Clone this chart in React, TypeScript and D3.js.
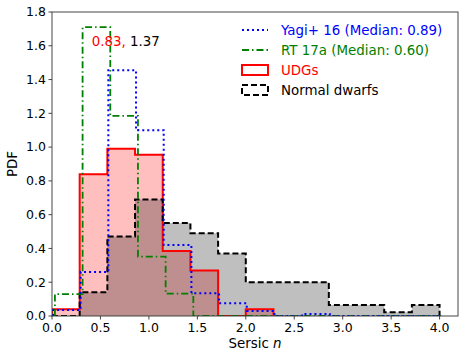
import React from "react";
import * as d3 from "d3";

// bin edges start + common bin width
const binWidth = 0.2857;
const dwarfStart = 0.0;
const udgStart = 0.0;
const yagiStart = 0.01;
const rtStart = 0.03;

// PDF heights per bin
const dwarfPdf = [0, 0.14, 0.47, 0.69, 0.55, 0.49, 0.37, 0.2, 0.2, 0.2, 0.065, 0.065, 0.022, 0.065];
const udgPdf = [0.04, 0.84, 0.99, 0.955, 0.385, 0.27, 0, 0.04];
const yagiPdf = [0.035, 0.26, 1.455, 1.1, 0.42, 0.135, 0.075, 0.03, 0, 0.012, 0, 0, 0, 0];
const rtPdf = [0.13, 1.71, 1.185, 0.352, 0.133, 0, 0, 0, 0, 0, 0, 0, 0, 0];

const xTicks = [0, 0.5, 1, 1.5, 2, 2.5, 3, 3.5, 4];
const yTicks = [0, 0.2, 0.4, 0.6, 0.8, 1.0, 1.2, 1.4, 1.6, 1.8];

const legendItems = [
  { label: "Yagi+ 16 (Median: 0.89)", color: "blue", kind: "dotted" },
  { label: "RT 17a (Median: 0.60)", color: "green", kind: "dashdot" },
  { label: "UDGs", color: "red", kind: "box" },
  { label: "Normal dwarfs", color: "black", kind: "dashbox" },
];

const W = 469, H = 359;
const m = { left: 52, right: 11, top: 12, bottom: 43 };
const font = "DejaVu Sans, sans-serif";

const x = d3.scaleLinear().domain([0, 4.19]).range([m.left, W - m.right]);
const y = d3.scaleLinear().domain([0, 1.8]).range([H - m.bottom, m.top]);

function stepPts(start: number, vals: number[]) {
  const pts: [number, number][] = [[start, 0]];
  vals.forEach((v, i) => {
    pts.push([start + i * binWidth, v]);
    pts.push([start + (i + 1) * binWidth, v]);
  });
  pts.push([start + vals.length * binWidth, 0]);
  return pts;
}

const line = d3.line<[number, number]>().x(d => x(d[0])).y(d => y(d[1]));

export default function App() {
  const dwarf = stepPts(dwarfStart, dwarfPdf);
  const udg = stepPts(udgStart, udgPdf);
  const yagi = stepPts(yagiStart, yagiPdf);
  const rt = stepPts(rtStart, rtPdf);
  const x0 = x.range()[0], x1 = x.range()[1];
  const y0 = y.range()[0], y1 = y.range()[1];

  return (
    <svg width={W} height={H} style={{ position: "absolute", left: 0, top: 0 }}>
      <rect width={W} height={H} fill="white" />
      <defs>
        <clipPath id="plot">
          <rect x={x0} y={y1} width={x1 - x0} height={y0 - y1} />
        </clipPath>
      </defs>
      <g clipPath="url(#plot)">
        <path d={line(udg) + "Z"} fill="red" fillOpacity={0.25} stroke="none" />
        <path d={line(dwarf) + "Z"} fill="black" fillOpacity={0.25} stroke="none" />
        <path d={line(udg)!} fill="none" stroke="red" strokeWidth={2} />
        <path d={line(dwarf)!} fill="none" stroke="black" strokeWidth={2} strokeDasharray="6,3" />
        <path d={line(rt)!} fill="none" stroke="green" strokeWidth={1.8} strokeDasharray="7,3,1.5,3" />
        <path d={line(yagi)!} fill="none" stroke="blue" strokeWidth={2} strokeDasharray="2,3" />
      </g>

      {/* frame */}
      <rect x={x0} y={y1} width={x1 - x0} height={y0 - y1} fill="none" stroke="#333" strokeWidth={0.9} />

      {/* x axis */}
      {xTicks.map(t => (
        <g key={"x" + t} transform={`translate(${x(t)},${y0})`}>
          <line y2={3.5} stroke="#333" strokeWidth={0.9} />
          <text y={16} textAnchor="middle" fontFamily={font} fontSize={12.5} fill="black">
            {t.toFixed(1)}
          </text>
        </g>
      ))}
      {/* y axis */}
      {yTicks.map(t => (
        <g key={"y" + t} transform={`translate(${x0},${y(t)})`}>
          <line x2={-3.5} stroke="#333" strokeWidth={0.9} />
          <text x={-6} dy="0.35em" textAnchor="end" fontFamily={font} fontSize={12.5} fill="black">
            {t.toFixed(1)}
          </text>
        </g>
      ))}

      <text x={(x0 + x1) / 2} y={348} textAnchor="middle" fontFamily={font} fontSize={13.4} fill="black">
        Sersic <tspan fontStyle="italic">n</tspan>
      </text>
      <text transform={`translate(17,${(y0 + y1) / 2}) rotate(-90)`} textAnchor="middle"
        fontFamily={font} fontSize={13.4} fill="black">PDF</text>

      {/* annotation */}
      <text x={x(0.41)} y={y(1.6)} fontFamily={font} fontSize={13.4}>
        <tspan fill="red">0.83,</tspan>
        <tspan fill="black"> 1.37</tspan>
      </text>

      {/* legend */}
      {legendItems.map((it, i) => {
        const ly = 30 + i * 20;
        const hx0 = 242, hx1 = 268;
        return (
          <g key={it.label}>
            {it.kind === "dotted" && (
              <line x1={hx0} x2={hx1} y1={ly} y2={ly} stroke={it.color} strokeWidth={2} strokeDasharray="2,3" />
            )}
            {it.kind === "dashdot" && (
              <line x1={hx0} x2={hx1} y1={ly} y2={ly} stroke={it.color} strokeWidth={1.8} strokeDasharray="7,3,1.5,3" />
            )}
            {it.kind === "box" && (
              <rect x={hx0} y={ly - 5} width={hx1 - hx0} height={10} fill="white" stroke={it.color} strokeWidth={2} />
            )}
            {it.kind === "dashbox" && (
              <rect x={hx0} y={ly - 5} width={hx1 - hx0} height={10} fill="white" stroke={it.color} strokeWidth={2} strokeDasharray="6,3" />
            )}
            <text x={281} y={ly} dy="0.35em" fontFamily={font} fontSize={13.4} fill={it.color}>
              {it.label}
            </text>
          </g>
        );
      })}
    </svg>
  );
}
